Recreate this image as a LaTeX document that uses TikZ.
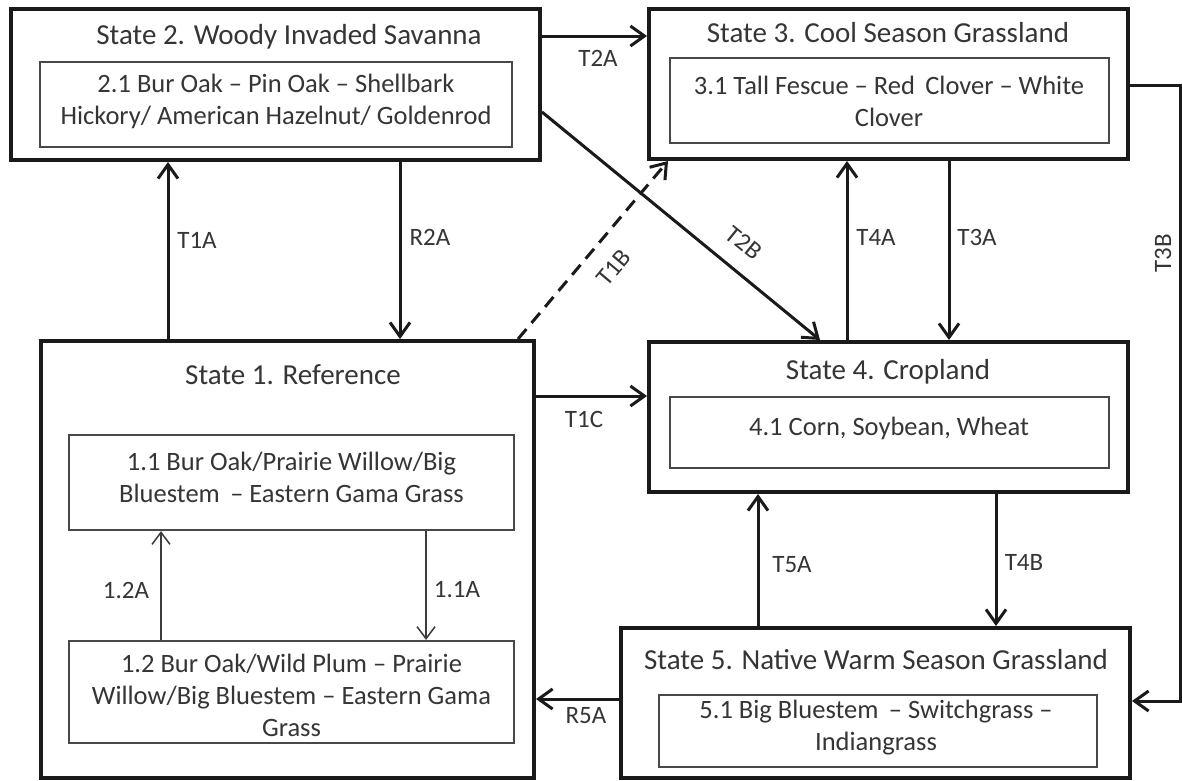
\documentclass[tikz,border=0pt]{standalone}
\usepackage{fontspec}
\setmainfont{Carlito}
\usetikzlibrary{arrows.meta,calc}
\definecolor{txt}{HTML}{353535}
\definecolor{ln}{HTML}{1A1A1A}
\begin{document}
\begin{tikzpicture}[x=1pt,y=-1pt,
  outerbox/.style={draw=ln,line width=4pt,minimum width=#1,inner sep=0pt,fill=white},
  innerbox/.style={draw=ln!80,line width=2.2pt,inner sep=0pt,align=center,text=txt,
     font=\fontsize{26.5}{32}\selectfont},
  ttl/.style={text=txt,font=\fontsize{29}{34}\selectfont,inner sep=0pt},
  lbl/.style={text=txt,font=\fontsize{25}{30}\selectfont,inner sep=0pt},
  arr/.style={draw=ln,line width=3pt,-{Straight Barb[length=14pt,width=20pt]}},
  thinarr/.style={draw=ln!85,line width=1.5pt,-{Straight Barb[length=12pt,width=18pt]}},
]
\useasboundingbox (0,0) rectangle (1182,780);
\fill[white] (0,0) rectangle (1182,780);

% State boxes
\node[outerbox=529pt,minimum height=151pt] (s2) at (275.5,84.5) {};
\node[outerbox=479pt,minimum height=150pt] (s3) at (888.5,84) {};
\node[outerbox=493pt,minimum height=437pt] (s1) at (287.5,559.5) {};
\node[outerbox=479pt,minimum height=150pt] (s4) at (888.5,417) {};
\node[outerbox=509pt,minimum height=150pt] (s5) at (875.5,703) {};

% titles
\node[ttl] (t2) at (289,37) {State 2. Woody Invaded Savanna};
\node[ttl] (t3) at (888,33) {State 3. Cool Season Grassland};
\node[ttl] (t1) at (293,375) {State 1. Reference};
\node[ttl] (t4) at (888,372) {State 4. Cropland};
\node[ttl] (t5) at (876,660) {State 5. Native Warm Season Grassland};

% inner boxes
\node[innerbox,minimum width=472pt,minimum height=85pt] (i21) at (276,104.5) {};
\node[innerbox,minimum width=439pt,minimum height=85pt] (i31) at (889.5,100.5) {};
\node[innerbox,minimum width=445pt,minimum height=95pt] (i11) at (291.5,482.5) {};
\node[innerbox,minimum width=445pt,minimum height=102pt] (i12) at (291.5,692) {};
\node[innerbox,minimum width=439pt,minimum height=71pt] (i41) at (889.5,432.5) {};
\node[innerbox,minimum width=438pt,minimum height=72pt] (i51) at (878,731) {};

\node[innerbox,draw=none] (x21) at (276,101) {2.1 Bur Oak -- Pin Oak -- Shellbark\\Hickory/ American Hazelnut/ Goldenrod};
\node[innerbox,draw=none] (x31) at (889,101) {3.1 Tall Fescue -- Red\, Clover -- White\\Clover};
\node[innerbox,draw=none] (x11) at (291.5,477) {1.1 Bur Oak/Prairie Willow/Big\\Bluestem \,-- Eastern Gama Grass};
\node[innerbox,draw=none] (x12) at (291.5,695) {1.2 Bur Oak/Wild Plum -- Prairie\\Willow/Big Bluestem -- Eastern Gama\\Grass};
\node[innerbox,draw=none] (x41) at (889,428) {4.1 Corn, Soybean, Wheat};
\node[innerbox,draw=none] (x51) at (876,728) {5.1 Big Bluestem \,-- Switchgrass --\\Indiangrass};

% helper coordinates
\coordinate (cT1A) at (168,0);
\coordinate (cR2A) at (400,0);
\coordinate (cB1) at (518,0);
\coordinate (cB3) at (668,0);
\coordinate (cT2Ay) at (0,36);
\coordinate (cT2By) at (0,112);
\coordinate (cT2Bx) at (820,0);
\coordinate (cT4A) at (847,0);
\coordinate (cT3A) at (949,0);
\coordinate (cT3By) at (0,85);
\coordinate (cT3Bx) at (1180,701);
\coordinate (cT3Bin) at (0,701);
\coordinate (cT1C) at (0,396);
\coordinate (cT4B) at (996,0);
\coordinate (cT5A) at (758,0);
\coordinate (cR5A) at (0,699);
\coordinate (c12A) at (161,0);
\coordinate (c11A) at (426,0);

% connectors
\draw[arr] (cT1A |- s1.north) -- (cT1A |- s2.south);
\draw[arr] (cR2A |- s2.south) -- (cR2A |- s1.north);
\draw[arr,dash pattern=on 13pt off 8pt] (cB1 |- s1.north) -- (cB3 |- s3.south);
\draw[arr] (s2.east |- cT2Ay) -- (s3.west |- cT2Ay);
\draw[arr] (s2.east |- cT2By) -- (cT2Bx |- s4.north);
\draw[arr] (cT4A |- s4.north) -- (cT4A |- s3.south);
\draw[arr] (cT3A |- s3.south) -- (cT3A |- s4.north);
\draw[arr] (s3.east |- cT3By) -| (cT3Bx) -- (s5.east |- cT3Bin);
\draw[arr] (s1.east |- cT1C) -- (s4.west |- cT1C);
\draw[arr] (cT4B |- s4.south) -- (cT4B |- s5.north);
\draw[arr] (cT5A |- s5.north) -- (cT5A |- s4.south);
\draw[arr] (s5.west |- cR5A) -- (s1.east |- cR5A);
\draw[thinarr] (c12A |- i12.north) -- (c12A |- i11.south);
\draw[thinarr] (c11A |- i11.south) -- (c11A |- i12.north);

% labels
\node[lbl] (lT1A) at (197,240) {T1A};
\node[lbl] (lR2A) at (430,237) {R2A};
\node[lbl,rotate=50] (lT1B) at (614,268) {T1B};
\node[lbl,rotate=-39] (lT2B) at (744,243) {T2B};
\node[lbl] (lT2A) at (598,58) {T2A};
\node[lbl] (lT4A) at (876,237) {T4A};
\node[lbl] (lT3A) at (977,237) {T3A};
\node[lbl,rotate=90] (lT3B) at (1163,253) {T3B};
\node[lbl] (lT1C) at (584,419) {T1C};
\node[lbl] (lT4B) at (1024,562) {T4B};
\node[lbl] (lT5A) at (792,565) {T5A};
\node[lbl] (lR5A) at (586,716) {R5A};
\node[lbl] (l12A) at (126,590) {1.2A};
\node[lbl] (l11A) at (457,590) {1.1A};
\end{tikzpicture}
\end{document}
